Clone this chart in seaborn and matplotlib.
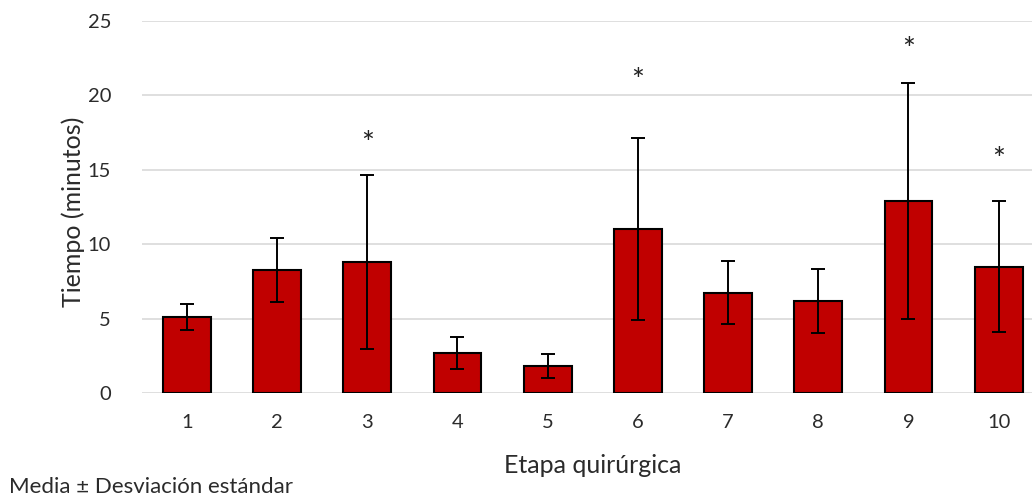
import matplotlib
matplotlib.use("Agg")
import matplotlib.pyplot as plt
import seaborn as sns
import pandas as pd

# Surgical stage timing: mean and standard deviation (minutes)
etapas = ["1", "2", "3", "4", "5", "6", "7", "8", "9", "10"]
media = [5.1, 8.3, 8.8, 2.7, 1.85, 11.0, 6.75, 6.2, 12.9, 8.5]
desviacion = [0.87, 2.15, 5.85, 1.08, 0.8, 6.1, 2.1, 2.15, 7.9, 4.4]
# stages flagged as significant, with the height of the asterisk
signif_etapas = ["3", "6", "9", "10"]
signif_altura = [16.75, 20.95, 23.05, 15.65]

sns.set_theme(style="white")
plt.rcParams["font.family"] = ["Lato", "DejaVu Sans"]

df = pd.DataFrame({"Etapa": etapas, "Media": media, "DE": desviacion})

fig = plt.figure(figsize=(10.32, 4.97), dpi=100)
ax = fig.add_axes([0.1373, 0.2087, 0.8627, 0.7496])

sns.barplot(data=df, x="Etapa", y="Media", order=etapas, color="#C00000",
            saturation=1, width=0.53, edgecolor="black", linewidth=1.5,
            errorbar=None, ax=ax, zorder=3)

xpos = range(len(etapas))
ax.errorbar(list(xpos), df["Media"], yerr=df["DE"], fmt="none",
            ecolor="black", elinewidth=1.4, capsize=5, capthick=1.4, zorder=4)

for et, h in zip(signif_etapas, signif_altura):
    ax.text(etapas.index(et), h, "*", ha="center", va="center",
            fontsize=22, color="#222222", zorder=5)

ax.set_ylim(0, 25)
ax.set_yticks([0, 5, 10, 15, 20, 25])
ax.set_xlim(-0.5, 9.37)
ax.yaxis.grid(True, color="#d9d9d9", linewidth=1.2, zorder=0)
ax.set_axisbelow(True)
for s in ax.spines.values():
    s.set_visible(False)
ax.tick_params(axis="both", length=0, labelsize=14.5, colors="#2b2b2b")
ax.tick_params(axis="x", pad=15)
ax.tick_params(axis="y", pad=22)

ax.set_xlabel("Etapa quirúrgica", fontsize=18, color="#2b2b2b")
ax.set_ylabel("Tiempo (minutos)", fontsize=18, color="#2b2b2b")
ax.xaxis.label.set_va("baseline")
ax.yaxis.label.set_va("baseline")
ax.xaxis.set_label_coords(0.5065, -0.2139)
ax.yaxis.set_label_coords(-0.068, 0.4866)

fig.text(0.009, 0.008, "Media ± Desviación estándar", fontsize=16,
         color="#2b2b2b", ha="left", va="baseline")

fig.savefig("out.png", dpi=100)
